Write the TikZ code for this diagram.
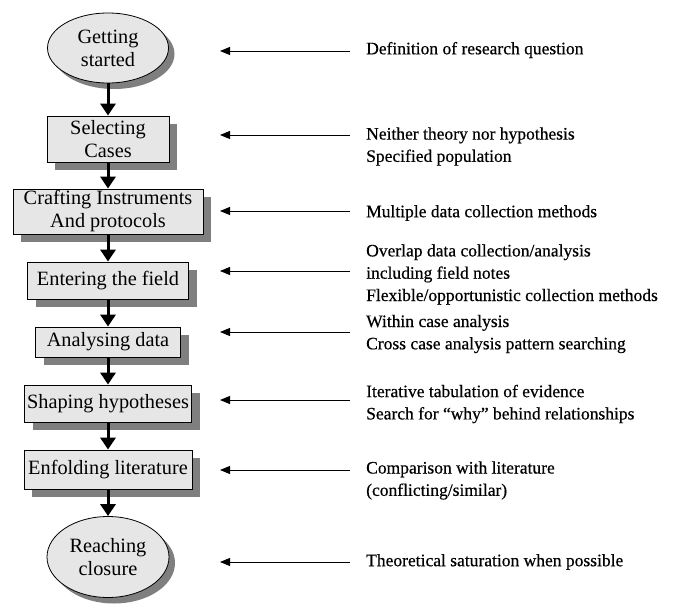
\documentclass[tikz,border=0pt]{standalone}
\usepackage{fontspec}
\setmainfont{Liberation Serif}
\newfontfamily\notefont{Liberation Serif}[FakeBold=0.5]
\usetikzlibrary{arrows.meta,shapes.geometric,shadows}
\definecolor{boxgray}{HTML}{E6E6E6}
\definecolor{shadowgray}{HTML}{7F7F7F}
\tikzset{
  boxfont/.style={font=\fontsize{20.3}{23}\selectfont},
  stepbox/.style={draw=black, line width=0.8pt, fill=boxgray, align=center,
    inner sep=0pt, boxfont,
    drop shadow={shadow xshift=8pt, shadow yshift=-8pt, fill=shadowgray, opacity=1}},
  stepoval/.style={ellipse, draw=black, line width=0.8pt, fill=boxgray, align=center,
    inner sep=0pt, boxfont,
    drop shadow={shadow xshift=6pt, shadow yshift=-6pt, fill=shadowgray, opacity=1}},
  flow/.style={line width=3pt, -{Triangle[length=12pt,width=15pt]}},
  note/.style={anchor=west, align=left, inner sep=0pt,
    font=\notefont\fontsize{17.5}{22.3}\selectfont},
  pointer/.style={line width=0.9pt, -{Triangle[length=10pt,width=8pt]}},
}
\begin{document}
\begin{tikzpicture}[x=1pt,y=-1pt]
\useasboundingbox (0,0) rectangle (676,609);
% left flow
\node[stepoval, minimum width=121pt, minimum height=70pt] (n1) at (108,48) {Getting\\started};
\node[stepbox, minimum width=122pt, minimum height=46pt] (n2) at (108,139) {Selecting\\Cases};
\node[stepbox, minimum width=190pt, minimum height=45pt] (n3) at (108,211.5) {Crafting Instruments\\And protocols};
\node[stepbox, minimum width=161pt, minimum height=37pt] (n4) at (108,280.5) {Entering the field};
\node[stepbox, minimum width=145pt, minimum height=30pt] (n5) at (108,342) {Analysing data};
\node[stepbox, minimum width=167pt, minimum height=37pt] (n6) at (108,403.5) {Shaping hypotheses};
\node[stepbox, minimum width=168pt, minimum height=39pt] (n7) at (108,469.5) {Enfolding literature};
\node[stepoval, minimum width=122pt, minimum height=81pt] (n8) at (108,557) {Reaching\\closure};
\draw[flow] (n1.south) -- (n2.north);
\draw[flow] (n2.south) -- (n3.north);
\draw[flow] (n3.south) -- (n4.north);
\draw[flow] (n4.south) -- (n5.north);
\draw[flow] (n5.south) -- (n6.north);
\draw[flow] (n6.south) -- (n7.north);
\draw[flow] (n7.south) -- (n8.north);
% right notes
\node[note] (t1) at (366,50) {Definition of research question};
\node[note] (t2) at (366,146.5) {Neither theory nor hypothesis\\Specified population};
\node[note] (t3) at (366,213) {Multiple data collection methods};
\node[note] (t4) at (366,274.5) {Overlap data collection/analysis\\including field notes\\Flexible/opportunistic collection methods};
\node[note] (t5) at (366,334) {Within case analysis\\Cross case analysis pattern searching};
\node[note] (t6) at (366,404) {Iterative tabulation of evidence\\Search for “why” behind relationships};
\node[note] (t7) at (366,480.5) {Comparison with literature\\(conflicting/similar)};
\node[note] (t8) at (366,562) {Theoretical saturation when possible};
% pointers
\foreach \i/\y in {1/51,2/135,3/211,4/271,5/332,6/400,7/470,8/562}{
  \coordinate (a\i) at (350,\y);
  \coordinate (b\i) at (220,\y);
  \draw[pointer] (a\i) -- (b\i);
}
\end{tikzpicture}
\end{document}
